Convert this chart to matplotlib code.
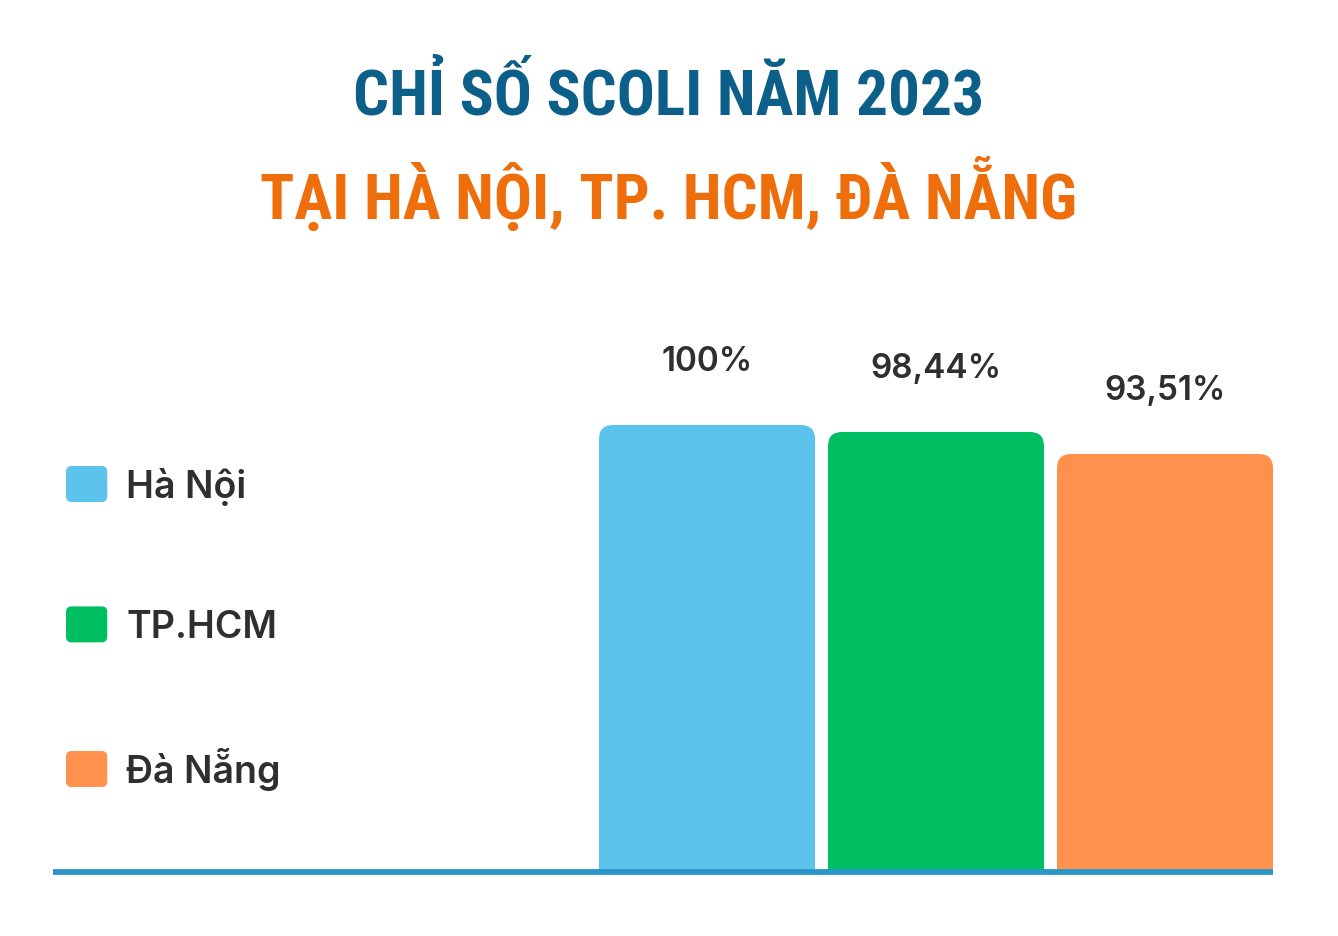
import matplotlib
matplotlib.use("Agg")
import matplotlib.pyplot as plt
from matplotlib.patches import FancyBboxPatch, Patch
from matplotlib.legend_handler import HandlerPatch

# ---- data ----
cities = ["Hà Nội", "TP.HCM", "Đà Nẵng"]
values = [100.0, 98.44, 93.51]
value_labels = ["100%", "98,44%", "93,51%"]
colors = ["#5cc3ec", "#00bf63", "#ff914d"]
title_line1 = "CHỈ SỐ SCOLI NĂM 2023"
title_line2 = "TẠI HÀ NỘI, TP. HCM, ĐÀ NẴNG"

W, H = 1338, 937
fig = plt.figure(figsize=(W / 100, H / 100), dpi=100)
fig.patch.set_facecolor("white")

title_font = ["Roboto Condensed", "Liberation Sans Narrow", "Roboto"]
body_font = ["Inter", "DejaVu Sans"]

fig.text(669 / W, 1 - 97 / H, title_line1, ha="center", va="center",
         fontsize=45.5, fontweight="bold", fontstretch="condensed",
         color="#0c5f88", family=title_font)
fig.text(669 / W, 1 - 194 / H, title_line2, ha="center", va="center",
         fontsize=45.5, fontweight="bold", fontstretch="condensed",
         color="#ed6e0b", family=title_font)

# axes spanning the baseline from x=53 to 1273 px, bottom at y=873 px
ax_left, ax_right = 53, 1273
ax_bottom, ax_top = 873, 330
ax = fig.add_axes([ax_left / W, 1 - ax_bottom / H, (ax_right - ax_left) / W,
                   (ax_bottom - ax_top) / H])
ax.set_axis_off()

spacing_px = 229.0
bar_w = 216.0 / spacing_px
xmax = 2 + bar_w / 2
xmin = xmax - (ax_right - ax_left) / spacing_px
ax.set_xlim(xmin, xmax)
ymax = (ax_bottom - ax_top) / 4.47
ax.set_ylim(0, ymax)

px_per_x = spacing_px
px_per_y = 4.47
r_px = 14
for i, (v, c) in enumerate(zip(values, colors)):
    patch = FancyBboxPatch((i - bar_w / 2, -10), bar_w, v + 10,
                           boxstyle=f"round,pad=0,rounding_size={r_px / px_per_x}",
                           mutation_aspect=px_per_x / px_per_y,
                           facecolor=c, edgecolor="none", zorder=2)
    ax.add_patch(patch)
    ax.annotate(value_labels[i], (i, v), xytext=(0, 46), textcoords="offset points",
                ha="center", va="center", fontsize=24, fontweight="semibold",
                color="#2f2f2f", family=body_font)

ax.axhline(0, color="#2b97c8", linewidth=4.2, zorder=3, solid_capstyle="butt",
           clip_on=False)


def rounded_handle(legend, orig_handle, xdescent, ydescent, width, height, fontsize):
    return FancyBboxPatch((-xdescent, -ydescent), width, height,
                          boxstyle="round,pad=0,rounding_size=4")


handles = [Patch(facecolor=c, edgecolor="none", label=l) for c, l in zip(colors, cities)]
leg = fig.legend(handles=handles, loc="upper left",
                 bbox_to_anchor=(66 / W, 1 - 467 / H), frameon=False,
                 prop={"family": body_font, "size": 27, "weight": "semibold"},
                 handlelength=1.1, handleheight=1.1, handletextpad=0.5,
                 labelspacing=2.71, borderpad=0, borderaxespad=0,
                 handler_map={Patch: HandlerPatch(patch_func=rounded_handle)})
for t in leg.get_texts():
    t.set_color("#2f2f2f")

fig.savefig("out.png", dpi=100, facecolor="white")
